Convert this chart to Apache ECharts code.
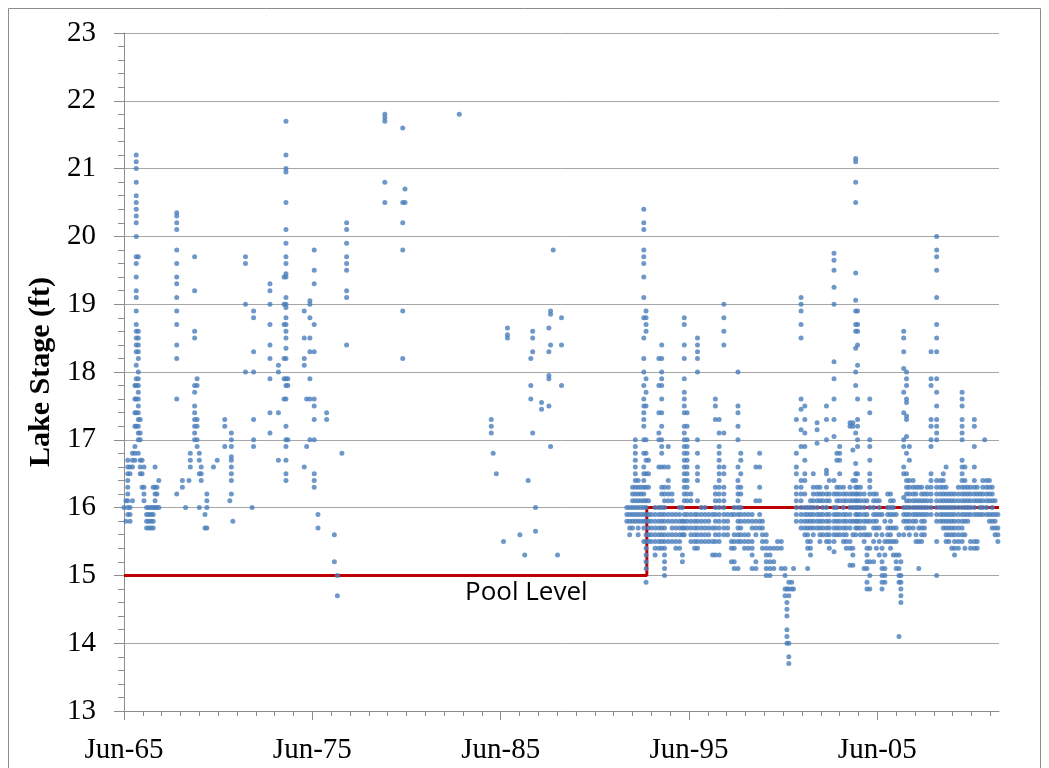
<!DOCTYPE html>
<html>
<head>
<meta charset="utf-8">
<title>Lake Stage</title>
<script src="https://cdn.jsdelivr.net/npm/echarts@6/dist/echarts.min.js"></script>
<style>
  html, body { margin: 0; padding: 0; background: #fff; }
  #chart { width: 1049px; height: 768px; }
</style>
</head>
<body>
<div id="chart"></div>
<script>
// x = years after June 1965 (0 = Jun-65)
// each row: [years, stage readings (ft) taken around that time...]
const earlyReadings = [
  [0.00, 16.0],
  [0.10, 16.1, 15.8],
  [0.20, 16.7, 16.6, 16.5, 16.4, 16.3, 16.2, 16.1, 16.0, 15.9],
  [0.32, 16.6, 16.5, 16.0, 15.9, 15.8],
  [0.45, 16.8, 16.7, 16.6, 16.1],
  [0.58, 17.8, 17.6, 17.4, 17.2, 16.9, 16.8, 16.7],
  [0.65, 21.2, 21.1, 21.0, 20.8, 20.6, 20.5, 20.4, 20.3, 20.2, 20.0, 19.7, 19.6, 19.4, 19.2, 19.1, 18.9, 18.7, 18.6, 18.5, 18.4, 18.3, 18.1, 17.9, 17.8, 17.6, 17.4, 17.2],
  [0.76, 19.7, 18.6, 18.5, 18.4, 18.3, 18.2, 18.0, 17.9, 17.8, 17.7, 17.6, 17.5, 17.4, 17.3, 17.2, 17.1, 17.0, 16.8],
  [0.86, 17.3, 17.1, 17.0, 16.7, 16.6, 16.5],
  [0.96, 16.7, 16.5, 16.3],
  [1.06, 16.6, 16.3, 16.2, 16.1],
  [1.20, 16.0, 15.9, 15.8, 15.7],
  [1.32, 16.0, 15.9, 15.8, 15.7],
  [1.44, 16.0, 15.9, 15.8, 15.7],
  [1.55, 16.3, 16.0, 15.9, 15.8, 15.7],
  [1.65, 16.6, 16.3, 16.2, 16.1, 16.0],
  [1.75, 16.3, 16.2, 16.0],
  [1.85, 16.4, 16.0],
  [2.80, 20.35, 20.3, 20.2, 20.1, 19.8, 19.6, 19.4, 19.3, 19.1, 18.9, 18.7, 18.4, 18.2, 17.6, 16.2],
  [3.10, 16.4, 16.3],
  [3.27, 16.0],
  [3.45, 16.4],
  [3.52, 16.8, 16.7, 16.6],
  [3.75, 19.7, 19.2, 18.6, 18.5, 17.8, 17.7, 17.5, 17.4, 17.3, 17.2, 17.1, 17.0],
  [3.88, 17.9, 17.8, 17.3, 17.2, 17.0, 16.9],
  [4.00, 16.8, 16.7, 16.5, 16.0],
  [4.10, 16.6, 16.5, 16.4],
  [4.30, 15.9, 15.7],
  [4.40, 16.2, 16.1, 16.0, 15.7],
  [4.75, 16.6],
  [4.95, 16.7],
  [5.35, 17.3, 17.2, 16.9],
  [5.62, 16.1],
  [5.70, 17.1, 17.0, 16.9, 16.75, 16.7, 16.6, 16.5, 16.4, 16.2],
  [5.78, 15.8],
  [6.45, 19.7, 19.6, 19.0, 18.0],
  [6.80, 16.0],
  [6.88, 18.9, 18.8, 18.3, 18.0, 17.3, 17.0, 16.9],
  [7.75, 19.3, 19.2, 19.0, 18.7, 18.4, 18.2, 17.9, 17.4, 17.1],
  [8.20, 18.1, 18.0, 17.4, 16.7],
  [8.50, 19.4, 19.0, 18.7, 18.2, 17.9, 17.6],
  [8.60, 21.7, 21.2, 21.0, 20.95, 20.5, 20.1, 19.9, 19.7, 19.6, 19.45, 19.4, 19.1, 19.0, 18.95, 18.8, 18.7, 18.6, 18.5, 18.35, 18.2, 17.9, 17.8, 17.6, 17.2, 17.0, 16.9, 16.7, 16.5, 16.4],
  [8.70, 17.9, 17.8, 17.0],
  [9.57, 18.9, 18.5, 18.2, 18.1, 16.6],
  [9.70, 17.6, 16.9],
  [9.87, 19.05, 19.0, 18.8, 18.5, 18.3, 17.9, 17.6, 17.0],
  [10.10, 19.8, 19.5, 19.3, 18.7, 18.3, 17.6, 17.5, 17.3, 17.0, 16.5, 16.4, 16.3],
  [10.30, 15.9, 15.7],
  [10.76, 17.4, 17.3],
  [11.17, 15.6, 15.2],
  [11.33, 15.0, 14.7],
  [11.57, 16.8],
  [11.82, 20.2, 20.1, 19.9, 19.7, 19.6, 19.5, 19.2, 19.1, 18.4],
  [13.85, 21.8, 21.75, 21.7, 20.8, 20.5],
  [14.80, 21.6, 20.5, 20.2, 19.8, 18.9, 18.2],
  [14.92, 20.7, 20.5],
  [17.80, 21.8]
];

const midReadings = [
  [19.50, 17.3, 17.2, 17.1],
  [19.60, 16.8],
  [19.77, 16.5],
  [20.15, 15.5],
  [20.36, 18.65, 18.55, 18.5],
  [21.02, 15.6],
  [21.28, 15.3],
  [21.46, 16.4],
  [21.60, 18.2, 17.8, 17.6],
  [21.70, 18.6, 18.5, 18.3, 17.1],
  [21.85, 16.0, 15.65],
  [22.17, 17.55, 17.45],
  [22.56, 18.65, 18.3, 17.95, 17.9, 17.5],
  [22.65, 18.9, 18.85, 18.4, 16.9],
  [22.79, 19.8],
  [23.02, 15.3],
  [23.23, 18.8, 18.4, 17.8]
];

const lateReadings = [
  [26.70, 16.0, 15.9, 15.8],
  [26.85, 16.0, 15.9, 15.8, 15.7, 15.6],
  [27.00, 16.3, 16.2, 16.1, 16.0, 15.9, 15.8, 15.7],
  [27.15, 17.0, 16.9, 16.8, 16.7, 16.6, 16.5, 16.4, 16.3, 16.2, 16.1, 16.0, 15.9, 15.8],
  [27.30, 16.4, 16.3, 16.2, 16.1, 16.0, 15.9, 15.8, 15.7, 15.6],
  [27.45, 16.3, 16.2, 16.1, 16.0, 15.9, 15.8],
  [27.60, 20.4, 20.2, 20.1, 19.8, 19.7, 19.6, 19.4, 19.1, 18.8, 18.5, 18.2, 18.0, 17.8, 17.6, 17.5, 17.4, 17.3, 17.2, 17.0, 16.8, 16.6, 16.5, 16.4, 16.3, 16.2, 16.1, 16.0, 15.9, 15.8, 15.7, 15.5],
  [27.72, 18.9, 18.8, 18.7, 18.6, 17.9, 17.7, 17.5, 17.0, 16.8, 16.7, 16.5, 16.3, 16.1, 16.0, 15.9, 15.8, 15.6, 15.5, 15.4, 15.3, 15.2, 15.1, 14.9],
  [27.85, 16.7, 16.5, 16.3, 16.1, 15.9, 15.8, 15.7, 15.6, 15.5],
  [28.00, 15.9, 15.8, 15.7, 15.6, 15.5],
  [28.20, 16.0, 15.9, 15.8, 15.7, 15.6, 15.5, 15.4, 15.3],
  [28.40, 18.2, 17.8, 17.4, 17.1, 17.0, 16.6, 16.0, 15.9, 15.8, 15.7, 15.6, 15.5, 15.4],
  [28.55, 18.4, 18.2, 18.0, 17.9, 17.8, 17.6, 17.4, 17.2, 17.0, 16.9, 16.8, 16.6, 16.3, 16.2, 16.0, 15.9, 15.8, 15.7, 15.6, 15.5, 15.4],
  [28.70, 16.6, 16.3, 16.2, 16.1, 16.0, 15.9, 15.8, 15.7, 15.6, 15.5, 15.4, 15.3, 15.2, 15.1, 15.0],
  [28.90, 16.9, 16.6, 16.4, 16.3, 16.2, 16.1, 15.9, 15.8, 15.6, 15.5],
  [29.10, 16.2, 16.1, 15.9, 15.8, 15.7, 15.6, 15.5],
  [29.30, 15.9, 15.8, 15.7, 15.6, 15.5, 15.4],
  [29.50, 16.0, 15.9, 15.8, 15.7, 15.6, 15.5, 15.4],
  [29.65, 16.0, 15.8, 15.7, 15.6, 15.3, 15.2],
  [29.75, 18.8, 18.7, 18.4, 18.2, 17.9, 17.7, 17.6, 17.5, 17.4, 17.2, 17.1, 17.0, 16.9, 16.8, 16.7, 16.6, 16.5, 16.4, 16.3, 16.2, 16.1, 15.9, 15.8, 15.7, 15.6],
  [29.90, 17.4, 17.2, 17.0, 16.9, 16.8, 16.7, 16.6, 16.5, 16.4, 16.3, 16.2, 16.1, 15.9, 15.8, 15.7],
  [30.10, 16.2, 16.1, 15.9, 15.8, 15.7, 15.6, 15.5],
  [30.30, 15.9, 15.8, 15.7, 15.6, 15.5, 15.4],
  [30.45, 18.5, 18.4, 18.3, 18.2, 18.0, 17.0, 16.8, 16.6, 16.5, 16.4, 16.1, 15.9, 15.8, 15.7, 15.6, 15.5, 15.4],
  [30.65, 16.0, 15.9, 15.8, 15.7, 15.6, 15.5],
  [30.85, 16.0, 15.9, 15.8, 15.7, 15.6, 15.5],
  [31.05, 15.9, 15.8, 15.7, 15.6, 15.5],
  [31.25, 15.9, 15.7, 15.5, 15.3],
  [31.40, 17.6, 17.5, 17.3, 16.3, 16.2, 16.1, 16.0, 15.9, 15.8, 15.7, 15.6, 15.5, 15.3],
  [31.60, 17.3, 17.1, 16.9, 16.8, 16.7, 16.6, 16.5, 16.4, 16.3, 16.2, 16.1, 16.0, 15.9, 15.8, 15.7, 15.6, 15.5, 15.3],
  [31.85, 19.0, 18.8, 18.6, 18.4, 17.1, 16.6, 16.5, 16.3, 16.2, 16.1, 16.0, 15.9, 15.8, 15.7, 15.6],
  [32.05, 15.9, 15.8, 15.7, 15.6],
  [32.25, 15.9, 15.5, 15.4, 15.2],
  [32.40, 16.0, 15.9, 15.6, 15.5, 15.4, 15.2, 15.1],
  [32.60, 18.0, 17.5, 17.4, 17.2, 17.0, 16.6, 16.4, 16.3, 16.2, 16.1, 16.0, 15.9, 15.8, 15.7, 15.6, 15.5, 15.1],
  [32.75, 16.8, 16.7, 16.5, 16.3, 16.2, 16.0, 15.9, 15.8, 15.7, 15.6, 15.5],
  [32.95, 15.9, 15.8, 15.6, 15.5, 15.4],
  [33.15, 15.9, 15.8, 15.6, 15.5, 15.4],
  [33.35, 15.9, 15.8, 15.7, 15.5, 15.4, 15.3, 15.1],
  [33.55, 16.6, 16.1, 15.8, 15.7, 15.6, 15.2, 15.1],
  [33.75, 16.8, 16.6, 16.3, 16.1, 15.9, 15.8, 15.7],
  [33.90, 15.8, 15.7, 15.6, 15.5, 15.4],
  [34.10, 15.6, 15.5, 15.4, 15.3, 15.2, 15.1, 15.0],
  [34.30, 15.4, 15.3, 15.2, 15.1, 15.0],
  [34.50, 15.4, 15.2, 15.1],
  [34.70, 15.5, 15.4],
  [34.90, 15.5, 15.4, 15.1],
  [35.10, 15.1, 15.0, 14.8, 14.7],
  [35.20, 14.8, 14.6, 14.5, 14.4, 14.2, 14.1, 14.0],
  [35.30, 14.9, 14.8, 14.7, 14.0, 13.8, 13.7],
  [35.45, 14.9, 14.8],
  [35.55, 15.1, 14.8],
  [35.70, 17.3, 16.8, 16.6, 16.5, 16.3, 16.2, 16.1, 16.0, 15.9, 15.8],
  [35.95, 19.1, 19.0, 18.9, 18.7, 18.5, 17.6, 17.45, 17.15, 16.9, 16.4, 16.3, 16.2, 16.1, 16.0, 15.9, 15.8, 15.7],
  [36.15, 17.5, 17.3, 17.1, 16.9, 16.7, 16.5, 16.4, 16.2, 16.0, 15.9, 15.8, 15.7, 15.6],
  [36.30, 16.0, 15.9, 15.8, 15.7, 15.6, 15.5, 15.4, 15.1],
  [36.45, 16.1, 16.0, 15.9, 15.8, 15.7, 15.5, 15.4, 15.3],
  [36.60, 16.5, 16.3, 16.2, 16.1, 16.0, 15.9, 15.8, 15.7, 15.6],
  [36.80, 17.25, 17.15, 16.95, 16.3, 16.2, 16.1, 16.0, 15.9, 15.8, 15.7],
  [36.95, 16.3, 16.2, 16.1, 15.9, 15.8, 15.7, 15.6, 15.5],
  [37.10, 16.2, 16.1, 16.0, 15.9, 15.8, 15.7, 15.6],
  [37.30, 17.5, 17.3, 17.0, 16.55, 16.5, 16.3, 16.2, 16.1, 16.0, 15.9, 15.8, 15.7, 15.6, 15.5],
  [37.45, 16.4, 16.2, 16.1, 15.9, 15.8, 15.7, 15.6, 15.5, 15.4],
  [37.70, 19.75, 19.65, 19.5, 19.25, 19.0, 18.15, 17.9, 17.6, 17.3, 17.05, 16.4, 16.2, 16.0, 15.9, 15.8, 15.7, 15.6, 15.5, 15.35],
  [37.85, 16.8, 16.7, 16.3, 16.2, 16.1, 16.0, 15.9, 15.8, 15.7, 15.6],
  [38.00, 16.9, 16.8, 16.7, 16.5, 16.3, 16.2, 16.1, 15.9, 15.8, 15.7, 15.6],
  [38.20, 16.3, 16.2, 16.1, 16.0, 15.9, 15.8, 15.7, 15.6, 15.5],
  [38.35, 16.2, 16.1, 15.9, 15.8, 15.7, 15.6, 15.5, 15.4],
  [38.55, 17.25, 17.2, 16.3, 16.2, 16.1, 16.0, 15.9, 15.8, 15.7, 15.5, 15.4, 15.15],
  [38.70, 17.25, 17.2, 16.85, 16.4, 16.2, 16.1, 16.0, 15.8, 15.6, 15.4, 15.3, 15.15],
  [38.85, 21.15, 21.1, 20.8, 20.5, 19.46, 19.06, 18.9, 18.7, 18.6, 18.35, 18.0, 17.8, 17.1, 16.65, 16.5, 16.4, 16.3, 16.2, 16.1, 16.0, 15.9, 15.8, 15.7, 15.6],
  [38.95, 18.9, 18.7, 18.6, 18.4, 18.1, 17.6, 17.3, 17.2, 17.0, 16.9, 16.5, 16.3, 16.2, 16.1, 16.0, 15.9, 15.8, 15.7],
  [39.10, 16.3, 16.2, 16.1, 16.0, 15.9, 15.8, 15.7, 15.6],
  [39.30, 16.2, 16.1, 16.0, 15.9, 15.8, 15.7, 15.6, 15.5, 15.1],
  [39.45, 16.1, 15.9, 15.8, 15.6, 15.4, 15.3, 15.2, 15.1, 14.9, 14.8],
  [39.60, 17.6, 17.4, 17.0, 16.9, 16.7, 16.5, 16.4, 16.3, 16.2, 16.0, 15.8, 15.6, 15.4, 15.2, 15.0, 14.8],
  [39.80, 16.2, 16.1, 16.0, 15.9, 15.8, 15.7, 15.5, 15.2],
  [39.95, 16.2, 16.1, 15.9, 15.8, 15.7, 15.6, 15.4],
  [40.10, 16.1, 16.0, 15.9, 15.7, 15.5, 15.3],
  [40.25, 15.9, 15.6, 15.4, 15.2, 15.1, 15.0, 14.9, 14.8],
  [40.40, 15.8, 15.5, 15.3, 15.1, 15.0, 14.9],
  [40.55, 16.2, 16.0, 15.9, 15.7, 15.6, 15.5],
  [40.70, 16.2, 16.1, 16.0, 15.9, 15.8, 15.7, 15.6, 15.5, 15.4],
  [40.85, 16.1, 16.0, 15.9, 15.7, 15.5, 15.3],
  [41.00, 15.9, 15.7, 15.5, 15.3, 15.2, 15.1],
  [41.15, 15.6, 15.3, 15.1, 15.0, 14.9, 14.1],
  [41.25, 15.2, 15.0, 14.9, 14.8, 14.7, 14.6],
  [41.40, 18.6, 18.5, 18.3, 18.05, 17.7, 17.4, 17.0, 16.9, 16.6, 16.5, 16.15, 16.0, 15.9, 15.8, 15.6],
  [41.55, 18.0, 17.9, 17.8, 17.6, 17.55, 17.35, 17.3, 17.05, 16.8, 16.5, 16.4, 16.3, 16.2, 16.1, 16.0, 15.9, 15.8, 15.7],
  [41.70, 16.9, 16.7, 16.4, 16.3, 16.2, 16.1, 16.0, 15.9, 15.8, 15.7, 15.6],
  [41.90, 16.4, 16.3, 16.2, 16.1, 16.0, 15.9, 15.8, 15.7],
  [42.05, 16.3, 16.2, 16.1, 16.0, 15.9, 15.8, 15.6, 15.5],
  [42.20, 16.3, 16.1, 16.0, 15.9, 15.7, 15.5, 15.1],
  [42.35, 16.3, 16.2, 16.1, 16.0, 15.9, 15.8, 15.7, 15.6, 15.5],
  [42.50, 16.2, 16.1, 16.0, 15.9, 15.8, 15.7, 15.6],
  [42.65, 16.3, 16.2, 16.1, 16.0, 15.9],
  [42.85, 18.3, 17.9, 17.8, 17.3, 17.2, 17.0, 16.9, 16.5, 16.4, 16.3, 16.2, 16.1, 16.0, 15.9],
  [43.15, 20.0, 19.8, 19.7, 19.5, 19.1, 18.7, 18.5, 18.3, 17.9, 17.7, 17.5, 17.3, 17.2, 17.1, 17.0, 16.4, 16.3, 16.2, 16.1, 16.0, 15.9, 15.8, 15.5, 15.0],
  [43.35, 16.4, 16.3, 16.2, 16.1, 16.0, 15.9, 15.8],
  [43.50, 16.5, 16.4, 16.3, 16.2, 16.1, 16.0, 15.9, 15.8, 15.7],
  [43.65, 16.6, 16.3, 16.2, 16.1, 16.0, 15.9, 15.8, 15.7, 15.6, 15.5],
  [43.80, 16.2, 16.1, 16.0, 15.9, 15.8, 15.7, 15.6, 15.5],
  [43.95, 16.2, 16.1, 16.0, 15.9, 15.8, 15.7, 15.6, 15.4],
  [44.10, 16.2, 16.1, 16.0, 15.9, 15.8, 15.7, 15.6, 15.5, 15.4, 15.3],
  [44.30, 16.3, 16.2, 16.1, 16.0, 15.9, 15.8, 15.7, 15.6, 15.5, 15.4],
  [44.50, 17.7, 17.6, 17.5, 17.3, 17.2, 17.1, 17.0, 16.7, 16.6, 16.5, 16.4, 16.3, 16.2, 16.1, 16.0, 15.9, 15.8, 15.7, 15.6, 15.5],
  [44.65, 16.6, 16.4, 16.3, 16.2, 16.1, 16.0, 15.9, 15.8, 15.6, 15.4],
  [44.80, 16.3, 16.2, 16.1, 16.0, 15.9, 15.8],
  [44.95, 16.3, 16.2, 16.1, 16.0, 15.9, 15.5, 15.4],
  [45.15, 17.3, 17.2, 16.9, 16.6, 16.4, 16.3, 16.2, 16.1, 16.0, 15.9, 15.5, 15.4],
  [45.30, 16.3, 16.2, 16.1, 15.9, 15.5, 15.4],
  [45.45, 16.2, 16.1, 16.0, 15.9],
  [45.60, 16.4, 16.3, 16.2, 16.1, 16.0, 15.9],
  [45.70, 17.0],
  [45.80, 16.4, 16.3, 16.2, 16.1, 16.0, 15.9],
  [45.95, 16.4, 16.3, 16.2, 16.1, 15.9, 15.8],
  [46.10, 16.3, 16.2, 16.1, 16.0, 15.9, 15.8, 15.7],
  [46.25, 16.1, 15.9, 15.8, 15.7, 15.6],
  [46.40, 15.9, 15.7, 15.6, 15.5]
];

// pool level: 15 ft until early 1993, then 16 ft
const poolLevelYears = [0, 27.76, 27.76, 46.46];
const poolLevelStage = [15, 15, 16, 16];

const yearTicks = [0, 1, 2, 3, 4, 5, 6, 7, 8, 9, 10, 11, 12, 13, 14, 15, 16, 17, 18, 19, 20, 21, 22, 23,
  24, 25, 26, 27, 28, 29, 30, 31, 32, 33, 34, 35, 36, 37, 38, 39, 40, 41, 42, 43, 44, 45, 46];
const decadeTicks = [0, 10, 20, 30, 40];
const decadeLabels = ['Jun-65', 'Jun-75', 'Jun-85', 'Jun-95', 'Jun-05'];

const X_MAX = 46.46;
const AXIS_GRAY = '#8c8c8c';
const SERIF = '"Liberation Serif", "DejaVu Serif", serif';

const toPoints = rows => rows.flatMap(r => r.slice(1).map(v => [r[0], v]));
const stagePoints = [
  ...toPoints(earlyReadings),
  ...toPoints(midReadings),
  ...toPoints(lateReadings)
];
const poolLine = poolLevelYears.map((x, i) => [x, poolLevelStage[i]]);

const chart = echarts.init(document.getElementById('chart'), null, { renderer: 'canvas' });

chart.setOption({
  animation: false,
  backgroundColor: '#fff',
  grid: { left: 124, right: 50, top: 33, bottom: 57 },
  xAxis: [
    {
      type: 'value', min: 0, max: X_MAX, position: 'bottom',
      axisLine: { show: true, lineStyle: { color: AXIS_GRAY, width: 1 } },
      axisTick: { show: true, length: 5, customValues: yearTicks, lineStyle: { color: AXIS_GRAY } },
      axisLabel: { show: false },
      splitLine: { show: false }
    },
    {
      type: 'value', min: 0, max: X_MAX, position: 'bottom', offset: 0,
      axisLine: { show: false },
      axisTick: { show: true, length: 9, customValues: decadeTicks, lineStyle: { color: AXIS_GRAY } },
      axisLabel: {
        customValues: decadeTicks,
        formatter: v => decadeLabels[decadeTicks.indexOf(v)] || '',
        margin: 25,
        color: '#000',
        fontFamily: SERIF,
        fontSize: 29
      },
      splitLine: { show: false }
    }
  ],
  yAxis: {
    type: 'value', min: 13, max: 23, interval: 1,
    name: 'Lake Stage (ft)',
    nameLocation: 'middle',
    nameGap: 62,
    nameTextStyle: { color: '#000', fontFamily: SERIF, fontWeight: 'bold', fontSize: 30 },
    axisLine: { show: true, lineStyle: { color: AXIS_GRAY, width: 1 } },
    axisTick: { show: true, length: 10, lineStyle: { color: AXIS_GRAY } },
    minorTick: { show: true, splitNumber: 5, length: 6, lineStyle: { color: AXIS_GRAY } },
    axisLabel: { color: '#000', fontFamily: SERIF, fontSize: 29, margin: 28 },
    splitLine: { show: true, lineStyle: { color: '#a6a6a6', width: 1 } }
  },
  graphic: [
    {
      type: 'rect', silent: true, z: -1,
      shape: { x: 8.5, y: 8.5, width: 1032, height: 790 },
      style: { fill: null, stroke: '#8c8c8c', lineWidth: 1 }
    },
    {
      type: 'text', left: 465, top: 580, silent: true,
      style: { text: 'Pool Level', fill: '#000', font: '26px "Open Sans", sans-serif' }
    }
  ],
  series: [
    {
      name: 'Pool Level',
      type: 'line',
      xAxisIndex: 0,
      data: poolLine,
      symbol: 'none',
      z: 2,
      lineStyle: { color: '#c00000', width: 3 }
    },
    {
      name: 'Lake Stage',
      type: 'scatter',
      xAxisIndex: 0,
      data: stagePoints,
      symbolSize: 5,
      z: 3,
      itemStyle: { color: '#4a7ebb' }
    }
  ]
});
</script>
</body>
</html>
